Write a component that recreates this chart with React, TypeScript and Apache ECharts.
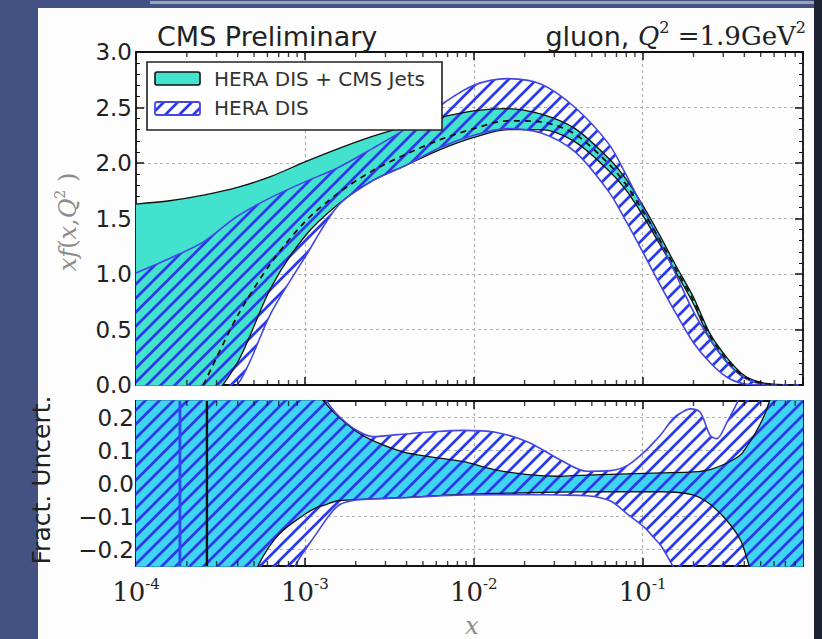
import React, { useEffect, useRef } from "react";
import * as echarts from "echarts";

// ---------------- data ----------------
// upper panel: x grid and band edges of x f(x,Q^2)
const topX = [1e-4, 1.58e-4, 2.51e-4, 3.98e-4, 6.31e-4, 1e-3, 1.58e-3, 2.51e-3, 3.98e-3, 6.31e-3,
  1e-2, 1.58e-2, 2.51e-2, 3.98e-2, 6.31e-2, 7.94e-2, 0.1, 0.126, 0.158, 0.2, 0.251, 0.316, 0.398, 0.501, 0.631, 0.89];
const cmsUpper = [1.63, 1.66, 1.71, 1.78, 1.88, 2.01, 2.13, 2.24, 2.33, 2.41, 2.47, 2.49, 2.44, 2.31, 2.04, 1.86,
  1.62, 1.35, 1.07, 0.79, 0.46, 0.245, 0.088, 0.024, 0.004, 0.0];
const cmsLower = [-0.6, -0.4, -0.2, 0.2, 0.88, 1.34, 1.63, 1.84, 1.98, 2.12, 2.23, 2.3, 2.3, 2.19, 1.93, 1.76,
  1.53, 1.27, 1.01, 0.73, 0.41, 0.205, 0.065, 0.014, 0.002, 0.0];
const cmsCentral = [null, null, 0.0, 0.62, 1.1, 1.47, 1.73, 1.93, 2.08, 2.21, 2.31, 2.38, 2.37, 2.26, 1.99, 1.81,
  1.57, 1.31, 1.04, 0.76, 0.44, 0.225, 0.076, 0.019, 0.003, 0.0];
const heraUpper = [1.01, 1.14, 1.29, 1.52, 1.69, 1.83, 1.96, 2.13, 2.31, 2.52, 2.7, 2.76, 2.71, 2.5, 2.17, 1.9,
  1.6, 1.3, 0.99, 0.66, 0.41, 0.2, 0.07, 0.01, 0.0, 0.0];
const heraLower = [-0.6, -0.4, -0.2, 0.0, 0.65, 1.15, 1.62, 1.84, 1.98, 2.14, 2.25, 2.31, 2.27, 2.1, 1.74, 1.48,
  1.2, 0.91, 0.64, 0.38, 0.2, 0.07, 0.01, 0.0, 0.0, 0.0];

// lower panel: fractional uncertainties (values beyond +-0.25 are off scale)
const cmsFracX = [1e-4, 3.98e-4, 5.37e-4, 7.08e-4, 1e-3, 1.17e-3, 1.29e-3, 1.55e-3, 2.04e-3, 2.63e-3, 3.8e-3,
  5.5e-3, 8.71e-3, 1.32e-2, 2.09e-2, 3.24e-2, 5.13e-2, 8.13e-2, 0.129, 0.2, 0.251, 0.316, 0.38, 0.417, 0.457,
  0.525, 0.575, 0.794, 0.89];
const cmsFracUp = [0.4, 0.4, 0.4, 0.4, 0.34, 0.28, 0.25, 0.206, 0.156, 0.126, 0.096, 0.081, 0.066, 0.042, 0.027,
  0.022, 0.026, 0.029, 0.032, 0.035, 0.042, 0.062, 0.087, 0.115, 0.146, 0.206, 0.26, 0.4, 0.4];
const cmsFracLo = [-0.4, -0.4, -0.242, -0.152, -0.093, -0.073, -0.066, -0.053, -0.049, -0.046, -0.043, -0.038,
  -0.033, -0.03, -0.028, -0.026, -0.025, -0.025, -0.025, -0.035, -0.063, -0.113, -0.172, -0.232, -0.3, -0.4,
  -0.4, -0.4, -0.4];
const heraFracX = [1e-4, 6.31e-4, 8.91e-4, 1.17e-3, 1.41e-3, 1.62e-3, 2.0e-3, 2.51e-3, 3.55e-3, 5.5e-3, 8.71e-3,
  1.32e-2, 2.09e-2, 3.24e-2, 4.68e-2, 6.46e-2, 8.13e-2, 0.102, 0.117, 0.129, 0.151, 0.17, 0.191, 0.219, 0.251,
  0.275, 0.316, 0.363, 0.398, 0.501, 0.89];
const heraFracUp = [0.4, 0.4, 0.4, 0.3, 0.235, 0.2, 0.163, 0.142, 0.148, 0.156, 0.161, 0.156, 0.126, 0.072, 0.037,
  0.039, 0.055, 0.095, 0.126, 0.15, 0.196, 0.215, 0.226, 0.216, 0.146, 0.136, 0.186, 0.246, 0.3, 0.4, 0.4];
const heraFracLo = [-0.4, -0.4, -0.242, -0.152, -0.093, -0.063, -0.05, -0.047, -0.044, -0.039, -0.035, -0.034,
  -0.034, -0.035, -0.037, -0.053, -0.093, -0.132, -0.165, -0.19, -0.25, -0.3, -0.35, -0.4, -0.4, -0.4, -0.4,
  -0.4, -0.4, -0.4, -0.4];
// x where the central values cross zero (fractional edges jump there)
const heraZeroX = 1.82e-4;
const cmsZeroX = 2.63e-4;

// tick values
const minorX = [2e-4, 3e-4, 4e-4, 5e-4, 6e-4, 7e-4, 8e-4, 9e-4, 2e-3, 3e-3, 4e-3, 5e-3, 6e-3, 7e-3, 8e-3, 9e-3,
  2e-2, 3e-2, 4e-2, 5e-2, 6e-2, 7e-2, 8e-2, 9e-2, 0.2, 0.3, 0.4, 0.5, 0.6, 0.7, 0.8];
const fracTicks = [-0.2, -0.1, 0, 0.1, 0.2];
const legendLabels = ["HERA DIS + CMS Jets", "HERA DIS"];

// ---------------- styles ----------------
const TURQ_TOP = "#42e2cf";
const TURQ_BOT = "#3fd5f2";
const HATCH = "#2a3ae8";
const HERA_EDGE = "#4646e2";
const BLACK = "#111";
const SANS = "DejaVu Sans";
const SERIF = "DejaVu Serif";

function hatch(color: string, p: number, w: number) {
  const svg = `<svg xmlns="http://www.w3.org/2000/svg" width="${p}" height="${p}"><path d="M0,${p} L${p},0 M-3,3 L3,-3 M${p - 3},${p + 3} L${p + 3},${p - 3}" stroke="${color}" stroke-width="${w}" fill="none"/></svg>`;
  return {
    image: "data:image/svg+xml;charset=utf-8," + encodeURIComponent(svg),
    repeat: "repeat",
    imageWidth: p,
    imageHeight: p,
  };
}

// rows are [y, x] so that the stacked dimension is y (first non-ordinal column)
const rowsYX = (xs: number[], ys: number[]) => xs.map((x, i) => [ys[i], x]);
const diffYX = (xs: number[], up: number[], lo: number[]) => xs.map((x, i) => [up[i] - lo[i], x]);

function band(id: string, xs: number[], up: number[], lo: number[], axis: number, fill: any, edge: string, width: number) {
  const common = {
    type: "line",
    xAxisIndex: axis,
    yAxisIndex: axis,
    stack: id,
    stackStrategy: "all",
    smooth: 0.3,
    symbol: "none",
    silent: true,
    clip: true,
    encode: { x: 1, y: 0 },
    lineStyle: { color: edge, width },
  };
  return [
    { ...common, data: rowsYX(xs, lo) },
    { ...common, data: diffYX(xs, up, lo), areaStyle: { color: fill, opacity: 1 } },
  ];
}

function tickScatter(axis: number, y: number, dir: number) {
  return {
    type: "scatter",
    xAxisIndex: axis,
    yAxisIndex: axis,
    silent: true,
    clip: false,
    symbol: "rect",
    symbolSize: [1.4, 5],
    symbolOffset: [0, dir * 2.5],
    itemStyle: { color: BLACK },
    data: minorX.map((x) => [x, y]),
    z: 5,
  };
}

export default function App() {
  const ref = useRef<HTMLDivElement>(null);
  useEffect(() => {
    if (!ref.current) return;
    const chart = echarts.init(ref.current, undefined, { renderer: "svg" });
    const axisLine = { show: true, onZero: false, lineStyle: { color: BLACK, width: 1.8 } };
    const gridLine = { show: true, lineStyle: { color: "#b0b0b0", width: 1.2, type: [3, 3] } };
    const xTick = { show: true, inside: true, length: 8, lineStyle: { color: BLACK, width: 1.5 } };
    const logX = { type: "log", logBase: 10, min: 1e-4, max: 0.89 };
    const xLabel = {
      show: true,
      margin: 10,
      showMaxLabel: false,
      formatter: (v: number) => {
        const e = Math.log10(v);
        if (Math.abs(e - Math.round(e)) > 0.01) return "";
        return `{b|10}{s|${Math.round(e)}}`;
      },
      rich: {
        b: { fontFamily: SERIF, fontSize: 26, color: "#222", lineHeight: 32 },
        s: { fontFamily: SERIF, fontSize: 15, color: "#222", lineHeight: 14, verticalAlign: "top" },
      },
    };
    const hatchFill = hatch(HATCH, 14, 2.7);

    const option: any = {
      animation: false,
      grid: [
        { left: 136, top: 52, width: 667, height: 333, containLabel: false, outerBoundsMode: "none" },
        { left: 136, top: 401, width: 667, height: 165, containLabel: false, outerBoundsMode: "none" },
      ],
      xAxis: [
        { ...logX, gridIndex: 0, position: "bottom", axisLine, axisTick: xTick, axisLabel: { show: false }, splitLine: gridLine },
        { ...logX, gridIndex: 0, position: "top", axisLine, axisTick: xTick, axisLabel: { show: false }, splitLine: { show: false } },
        { ...logX, gridIndex: 1, position: "bottom", axisLine, axisTick: xTick, axisLabel: xLabel, splitLine: gridLine },
        { ...logX, gridIndex: 1, position: "top", axisLine, axisTick: xTick, axisLabel: { show: false }, splitLine: { show: false } },
      ],
      yAxis: [
        {
          gridIndex: 0, type: "value", min: 0, max: 3, interval: 0.5, position: "left", axisLine,
          axisTick: { show: true, inside: true, length: 8, lineStyle: { color: BLACK, width: 1.5 } },
          minorTick: { show: true, splitNumber: 5, length: 4, lineStyle: { color: BLACK, width: 1 } },
          axisLabel: { show: true, margin: 4, fontFamily: SANS, fontSize: 23, color: "#222", formatter: (v: number) => v.toFixed(1) },
          splitLine: gridLine,
        },
        {
          gridIndex: 0, type: "value", min: 0, max: 3, interval: 0.5, position: "right", axisLine,
          axisTick: { show: true, inside: true, length: 8, lineStyle: { color: BLACK, width: 1.5 } },
          minorTick: { show: true, splitNumber: 5, length: 4, lineStyle: { color: BLACK, width: 1 } },
          axisLabel: { show: false }, splitLine: { show: false },
        },
        {
          gridIndex: 1, type: "value", min: -0.25, max: 0.25, position: "left", axisLine,
          axisTick: { show: true, inside: true, length: 8, customValues: fracTicks, lineStyle: { color: BLACK, width: 1.5 } },
          axisLabel: {
            show: true, margin: 2, fontFamily: SANS, fontSize: 23, color: "#222", customValues: fracTicks,
            formatter: (v: number) => (v < -1e-9 ? "\u2212" : "") + Math.abs(v).toFixed(1),
          },
          splitLine: gridLine,
        },
        {
          gridIndex: 1, type: "value", min: -0.25, max: 0.25, position: "right", axisLine,
          axisTick: { show: true, inside: true, length: 8, customValues: fracTicks, lineStyle: { color: BLACK, width: 1.5 } },
          axisLabel: { show: false }, splitLine: { show: false },
        },
      ],
      series: [
        ...band("cmsTop", topX, cmsUpper, cmsLower, 0, TURQ_TOP, BLACK, 1.3),
        ...band("heraTop", topX, heraUpper, heraLower, 0, hatchFill, HERA_EDGE, 1.6),
        {
          type: "line", xAxisIndex: 0, yAxisIndex: 0, data: topX.map((x, i) => [x, cmsCentral[i]]), smooth: 0.3,
          symbol: "none", silent: true, lineStyle: { color: BLACK, width: 1.8, type: [6, 5] },
        },
        ...band("cmsBot", cmsFracX, cmsFracUp, cmsFracLo, 2, TURQ_BOT, BLACK, 1.3),
        ...band("heraBot", heraFracX, heraFracUp, heraFracLo, 2, hatchFill, HERA_EDGE, 1.6),
        {
          type: "line", xAxisIndex: 2, yAxisIndex: 2, symbol: "none", silent: true,
          data: [[heraZeroX, -0.25], [heraZeroX, 0.25]], lineStyle: { color: "#2f45f0", width: 2.8 },
        },
        {
          type: "line", xAxisIndex: 2, yAxisIndex: 2, symbol: "none", silent: true,
          data: [[cmsZeroX, -0.25], [cmsZeroX, 0.25]], lineStyle: { color: BLACK, width: 2.4 },
        },
        tickScatter(0, 0, -1),
        tickScatter(0, 3, 1),
        tickScatter(2, -0.25, -1),
        tickScatter(2, 0.25, 1),
      ],
      graphic: [
        {
          type: "text", x: 157, y: 36, z: 100,
          style: { text: "CMS Preliminary", fontFamily: SANS, fontSize: 27, fill: "#222", verticalAlign: "middle" },
        },
        {
          type: "text", x: 806, y: 36, z: 100,
          style: {
            text: "{g|gluon, }{q|Q}{s|2}{m| =1.9GeV}{s|2}",
            align: "right", verticalAlign: "middle",
            rich: {
              g: { fontFamily: SANS, fontSize: 27, fill: "#222", lineHeight: 34 },
              q: { fontFamily: SERIF, fontStyle: "italic", fontSize: 26, fill: "#222", lineHeight: 34 },
              m: { fontFamily: SERIF, fontSize: 26, fill: "#222", lineHeight: 34 },
              s: { fontFamily: SERIF, fontSize: 16, fill: "#222", lineHeight: 18, verticalAlign: "top" },
            },
          },
        },
        {
          type: "rect", z: 100, shape: { x: 147, y: 62, width: 295, height: 68 },
          style: { fill: "#fff", stroke: "#222", lineWidth: 1.6 },
        },
        {
          type: "rect", z: 101, shape: { x: 155, y: 72, width: 45, height: 13, r: 2 },
          style: { fill: TURQ_TOP, stroke: BLACK, lineWidth: 1.6 },
        },
        {
          type: "rect", z: 101, shape: { x: 155, y: 102, width: 45, height: 13, r: 2 },
          style: { fill: hatchFill as any, stroke: HERA_EDGE, lineWidth: 1.8 },
        },
        {
          type: "text", x: 214, y: 79, z: 101,
          style: { text: legendLabels[0], fontFamily: SANS, fontSize: 20, fill: "#333", verticalAlign: "middle" },
        },
        {
          type: "text", x: 214, y: 108, z: 101,
          style: { text: legendLabels[1], fontFamily: SANS, fontSize: 20, fill: "#333", verticalAlign: "middle" },
        },
        {
          type: "text", x: 68, y: 222, rotation: Math.PI / 2, z: 100,
          style: {
            text: "{i|xf}{n|(}{i|x}{n|,}{i|Q}{s|2}{n| )}",
            align: "center", verticalAlign: "middle",
            rich: {
              i: { fontFamily: SERIF, fontStyle: "italic", fontSize: 24, fill: "#8c8c8c", lineHeight: 30 },
              n: { fontFamily: SERIF, fontSize: 24, fill: "#8c8c8c", lineHeight: 30 },
              s: { fontFamily: SERIF, fontSize: 14, fill: "#8c8c8c", lineHeight: 16, verticalAlign: "top" },
            },
          },
        },
        {
          type: "text", x: 41, y: 480, rotation: Math.PI / 2, z: 100,
          style: { text: "Fract. Uncert.", fontFamily: SANS, fontSize: 25, fill: "#222", align: "center", verticalAlign: "middle" },
        },
        {
          type: "text", x: 472, y: 626, z: 100,
          style: { text: "x", fontFamily: SERIF, fontStyle: "italic", fontSize: 24, fill: "#8c8c8c", align: "center", verticalAlign: "middle" },
        },
      ],
    };
    chart.setOption(option);
    return () => chart.dispose();
  }, []);

  return (
    <div style={{ position: "fixed", left: 0, top: 0, width: 822, height: 639, background: "#435282", overflow: "hidden" }}>
      <div style={{ position: "absolute", left: 150, top: 1, width: 672, height: 3, background: "#9aa3bd" }} />
      <div style={{ position: "absolute", left: 38, top: 8, width: 776, height: 631, background: "#fdfdfd" }} />
      <div style={{ position: "absolute", left: 814, top: 0, width: 8, height: 639, background: "#1d2235" }} />
      <div ref={ref} style={{ position: "absolute", left: 0, top: 0, width: 822, height: 639 }} />
    </div>
  );
}
